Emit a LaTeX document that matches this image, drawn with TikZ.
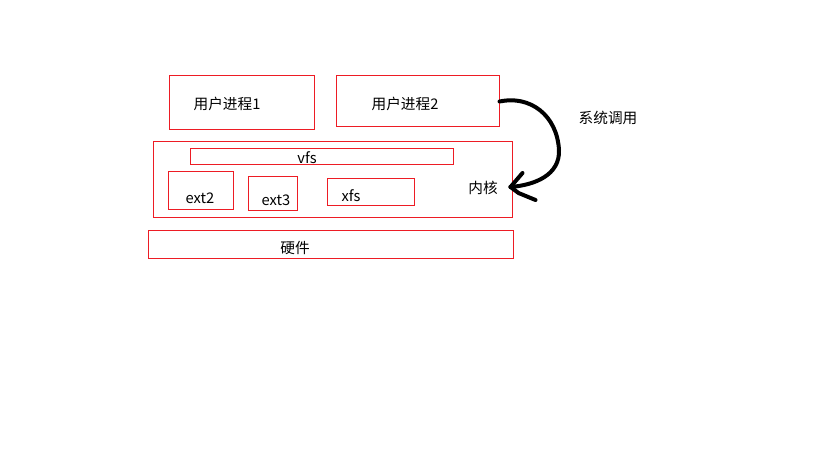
\documentclass[tikz,border=0pt]{standalone}
\usepackage{fontspec}
\setmainfont{Noto Sans CJK SC}
\usetikzlibrary{positioning,calc}
\definecolor{paintred}{RGB}{237,28,36}

\tikzset{
  box/.style={draw=paintred,line width=0.75pt,inner sep=0pt},
  lbl/.style={inner sep=0pt,font=\fontsize{11}{13}\selectfont},
  syscall/.style={line width=3pt,line cap=round,line join=round}
}

\begin{document}
\begin{tikzpicture}[x=0.75pt,y=-0.75pt]
  \useasboundingbox (0,0) rectangle (819,460);

  % user space
  \node[box,minimum width=108.75pt,minimum height=40.5pt] (p1) at (241.5,103) {};
  \node[box,minimum width=122.25pt,minimum height=38.25pt] (p2) at (417.5,101.5) {};
  \node[lbl] (p1t) at (227,104) {用户进程1};
  \node[lbl] (p2t) at (405,104) {用户进程2};

  % kernel
  \node[box,minimum width=269.25pt,minimum height=57pt] (kern) at (332.5,180) {};
  \node[box,minimum width=197.25pt,minimum height=12pt] (vfs) at (321.5,157) {};
  \node[box,minimum width=48.75pt,minimum height=28.5pt] (ext2) at (200.5,191) {};
  \node[box,minimum width=36.75pt,minimum height=25.5pt] (ext3) at (272.5,194) {};
  \node[box,minimum width=65.25pt,minimum height=20.25pt] (xfs) at (370.5,192.5) {};
  \node[lbl] (vfst) at (307,158) {vfs};
  \node[lbl] (ext2t) at (200,198) {ext2};
  \node[lbl] (ext3t) at (276,200) {ext3};
  \node[lbl] (xfst) at (351,196) {xfs};
  \node[lbl] (kernt) at (483,188) {内核};

  % hardware
  \node[box,minimum width=273.75pt,minimum height=21pt] (hw) at (330.5,245) {};
  \node[lbl] (hwt) at (295,248) {硬件};

  % system call arrow
  \node[lbl] (sct) at (608,118) {系统调用};
  \coordinate (tip) at ($(kern.east)+(-2,7)$);
  \draw[syscall] (p2.east) .. controls (530,95) and (557,115) .. (559,150)
    .. controls (560,175) and (535,185) .. (tip);
  \draw[syscall] (tip) -- ++(12,-14);
  \draw[syscall] (tip) -- ++(8,6) -- ++(17,7);
\end{tikzpicture}
\end{document}
